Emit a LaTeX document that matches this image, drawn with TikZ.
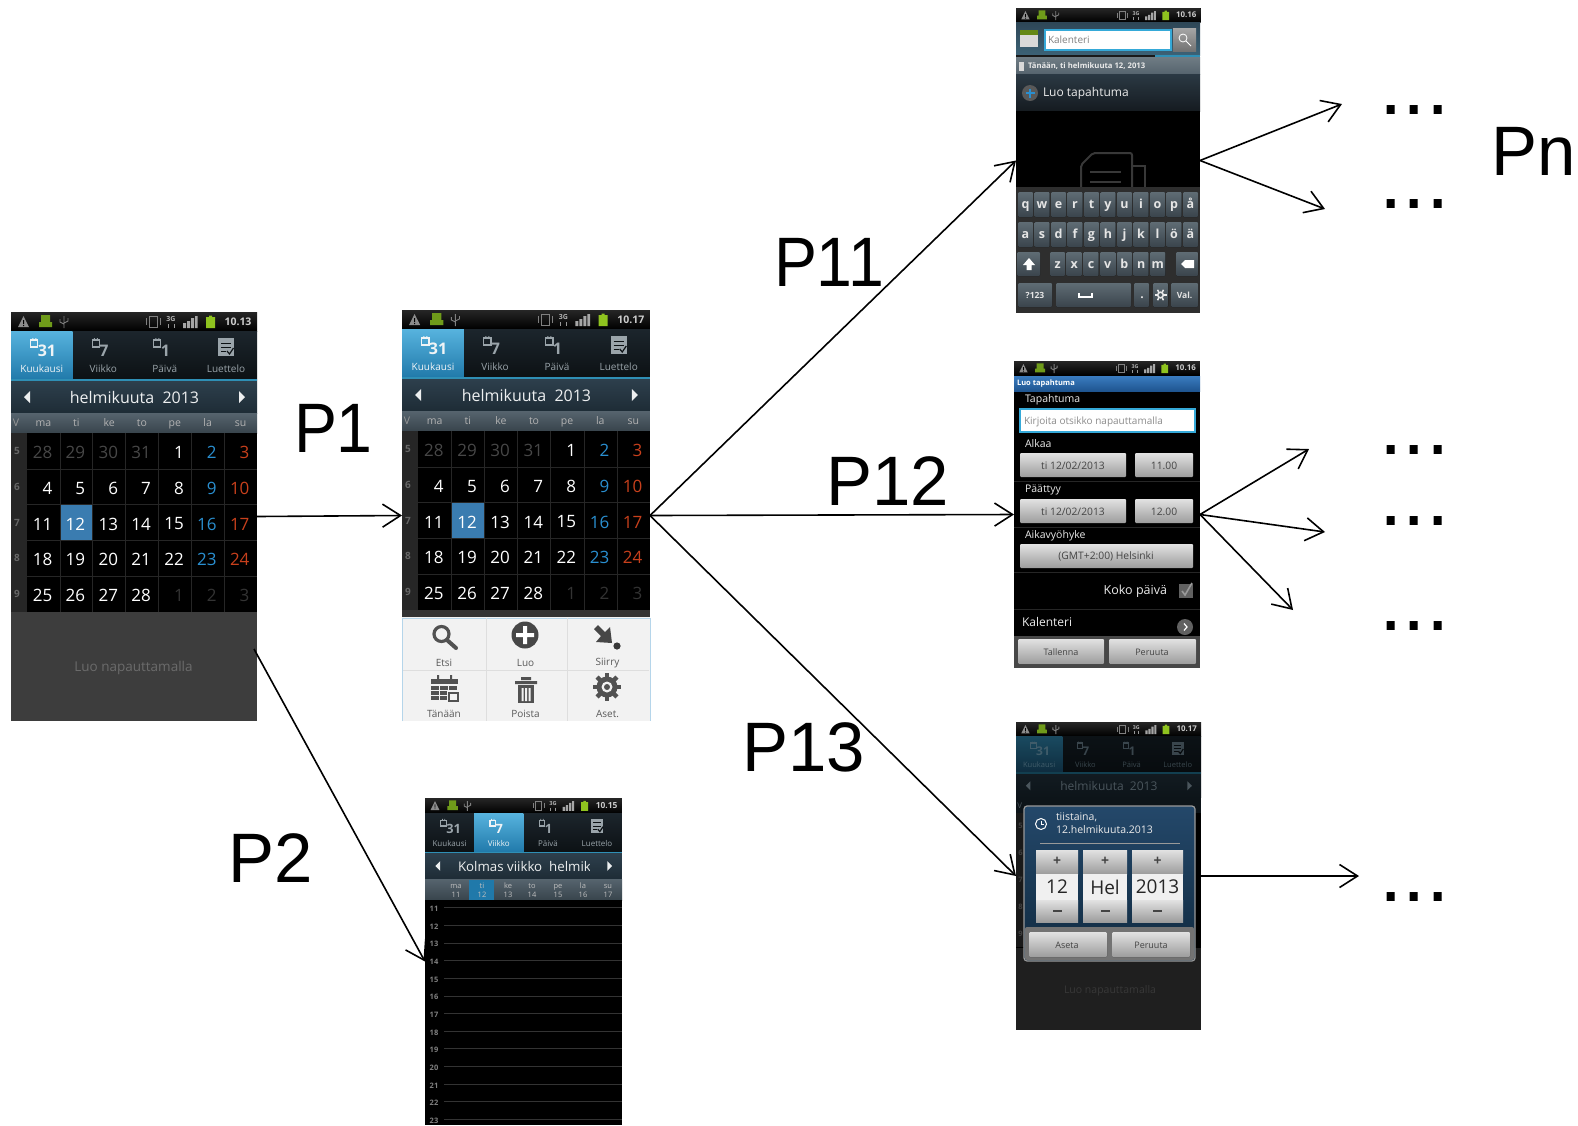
\documentclass[tikz,border=0pt]{standalone}
\usepackage{fontspec}
\setmainfont{Open Sans}
\newfontfamily\labfont{Liberation Sans}
\usetikzlibrary{arrows.meta}
\definecolor{cblue}{HTML}{2A8FD0}
\definecolor{cred}{HTML}{C8401C}
\definecolor{csel}{HTML}{3A7CB0}
\definecolor{ctab}{HTML}{1C252C}
\colorlet{tabtop}{ctab}
\definecolor{tabbot}{HTML}{0C1114}
\definecolor{hitop}{HTML}{57B3DE}
\definecolor{hibot}{HTML}{2079AA}
\definecolor{tabtxt}{HTML}{9AA4AA}
\definecolor{hitxt}{HTML}{F0F4F6}
\definecolor{tabline}{HTML}{2F8FB5}
\definecolor{mtop}{HTML}{2D3F4C}
\definecolor{mbot}{HTML}{1E2C36}
\definecolor{mtxt}{HTML}{EDEFF0}
\definecolor{wtop}{HTML}{56646E}
\definecolor{wbot}{HTML}{38444C}
\definecolor{btntop}{HTML}{E2E2E2}
\definecolor{btnbot}{HTML}{9C9C9C}
\definecolor{btntxt}{HTML}{444444}
\definecolor{keytop}{HTML}{5F6C74}
\definecolor{keybot}{HTML}{3A444C}
\definecolor{fieldb}{HTML}{35A9D8}
\definecolor{sbtop}{HTML}{2E4656}
\definecolor{sbbot}{HTML}{3C6276}
\definecolor{dgtop}{HTML}{24486A}
\definecolor{dgbot}{HTML}{102A40}
\definecolor{titop}{HTML}{3A7CC0}
\definecolor{tibot}{HTML}{1F5590}
\definecolor{datetop}{HTML}{6F7C84}
\definecolor{datebot}{HTML}{56646E}
\definecolor{luotop}{HTML}{2B3944}
\definecolor{luobot}{HTML}{151B20}
\definecolor{andr}{HTML}{6F9B1A}
\definecolor{batt}{HTML}{8FC31F}
\definecolor{menub}{HTML}{B5D5EA}
\newcounter{tc}
\tikzset{
  fs/.style={font=\fontsize{#1}{#1}\selectfont},
  txt/.style={inner sep=0pt,outer sep=0pt,text=white,fs=10},
  screen/.style={inner sep=0pt,outer sep=0pt,draw=none},
  flow/.style={line width=1.6pt,-{Straight Barb[length=18pt,width=23pt,line width=1.6pt]}},
  biglabel/.style={inner sep=0pt,outer sep=0pt,anchor=base west,text=black,font=\labfont\fontsize{70}{70}\selectfont,transform shape,xscale=#1},
  dotsl/.style={inner sep=0pt,outer sep=0pt,anchor=base west,text=black,font=\labfont\fontsize{84}{84}\selectfont},
  btn/.style={top color=btntop,bottom color=btnbot,rounded corners=1pt},
  keyb/.style={top color=keytop,bottom color=keybot,rounded corners=1pt},
  keyt/.style={font=\bfseries\fontsize{12.5}{12.5}\selectfont,text=black!10!white,text height=9pt,text depth=2.3pt},
  wkt/.style={fs=10.5,text height=7.5pt,text depth=2pt},
  wks/.style={fs=7.5,text=black!25!white,text height=5.5pt,text depth=1.5pt},
}
\newcommand\tx[4][]{\stepcounter{tc}\node[txt,#1] (t\arabic{tc}) at ({#2},{#3}) {#4};}
% status bar, local width 246, height 19
\newcommand\statusbar[1]{%
  \fill[top color=black!85!white,bottom color=black] (0,0) rectangle (246,19);
  \fill[black!45!white] (7,15)--(12.5,4)--(18,15)--cycle;
  \fill[black] (12,8) rectangle (13,12) (12,13) rectangle (13,14);
  \fill[andr] (28,15) rectangle (41,10) (30,10) rectangle (39,3);
  \draw[black!50!white,line width=.9pt] (53,16)--(53,4) (49,7)--(49,10)--(53,12) (57,6)--(57,9)--(53,11);
  \draw[black!50!white,line width=1pt] (138,4) rectangle (146,15);
  \draw[black!50!white,line width=.8pt] (135,6)--(135,13) (149,6)--(149,13);
  \tx[font=\bfseries\fontsize{7}{7}\selectfont,text=black!30!white]{160}{7}{3G}
  \draw[black!40!white,line width=.9pt] (157,12)--(157,16) (163,12)--(163,16);
  \fill[black!35!white] (172,11) rectangle (175,16) (176,9) rectangle (179,16) (180,6) rectangle (183,16) (184,4) rectangle (186.5,16);
  \fill[batt] (195,5) rectangle (204,16) (198,3.5) rectangle (201,5);
  \tx[font=\bfseries\fontsize{10.5}{10.5}\selectfont,text=black!20!white]{227}{9.5}{#1}
}
% single tab item: index, digit, label, active index
\newcommand\tabitem[4]{%
  \pgfmathsetmacro\cx{(#1+.5)*61.5}
  \ifnum#1=#4\relax\colorlet{cc}{hitxt}\else\colorlet{cc}{tabtxt}\fi
  \draw[cc,line width=1.1pt] (\cx-11,28) rectangle (\cx-4,35);
  \fill[cc] (\cx-9.5,26) rectangle (\cx-8.5,28) (\cx-6.5,26) rectangle (\cx-5.5,28);
  \tx[font=\bfseries\fontsize{16}{16}\selectfont,text=cc,anchor=west]{\cx-4}{39}{#2}
  \tx[fs=10,text=cc]{\cx}{57}{#3}
}
\newcommand\tabbar[1]{%
  \fill[top color=tabtop,bottom color=tabbot] (0,19) rectangle (246,68);
  \fill[top color=hitop,bottom color=hibot] ({#1*61.5},19) rectangle ++(61.5,49);
  \fill[tabline] (0,67) rectangle (246,69.5);
  \tabitem{0}{31}{Kuukausi}{#1}
  \tabitem{1}{7}{Viikko}{#1}
  \tabitem{2}{1}{Päivä}{#1}
  \tx[fs=10,text=tabtxt]{215}{57}{Luettelo}
  \fill[tabtxt] (207,26) rectangle (223,44);
  \draw[tabbot,line width=1pt] (210,31)--(220,31) (210,35)--(220,35) (210,39)--(215,39);
  \draw[tabbot,line width=1.2pt] (216,39)--(218.5,42)--(222.5,36);
}
\newcommand\monthbar[1]{%
  \fill[top color=mtop,bottom color=mbot] (0,69.5) rectangle (246,101);
  \fill[mtxt] (13,85)--(19,79)--(19,91)--cycle (234,85)--(228,79)--(228,91)--cycle;
  #1
}
\newcommand\calrow[2]{%
  \foreach \n [count=\c from 0] in {#2} {
    \colorlet{nc}{white}
    \ifnum\c=5 \colorlet{nc}{cblue}\fi
    \ifnum\c=6 \colorlet{nc}{cred}\fi
    \ifnum#1=0 \ifnum\c<4 \colorlet{nc}{black!72!white}\fi\fi
    \ifnum#1=4 \ifnum\c>3 \colorlet{nc}{black!80!white}\fi\fi
    \tx[fs=17,text=nc,anchor=east]{16+32.86*\c+25.3}{122.5+35.8*(#1+.5)}{\n}
  }
}
\newcommand\calgrid{%
  \fill[top color=wtop,bottom color=wbot] (0,101) rectangle (246,121);
  \foreach \d [count=\c from 0] in {ma,ti,ke,to,pe,la,su} {
    \tx[wkt,text=black!30!white]{16+32.86*\c+16.4}{112}{\d}
  }
  \tx[wkt,text=black!40!white]{5}{112}{V}
  \fill[black] (0,121) rectangle (246,300);
  \fill[black!85!white] (0,121) rectangle (16,300);
  \fill[csel] (48.9,192.6) rectangle (81.7,228.4);
  \foreach \c in {1,...,6} \draw[black!85!white,line width=.5pt] ({16+32.86*\c},121)--({16+32.86*\c},300);
  \foreach \r in {1,...,4} \draw[black!85!white,line width=.5pt] (0,{121+35.8*\r})--(246,{121+35.8*\r});
  \foreach \n [count=\r from 0] in {5,6,7,8,9} {
    \tx[font=\bfseries\fontsize{10}{10}\selectfont,text=black!60!white]{6}{121+35.8*\r+17.9}{\n}
  }
  \calrow{0}{28,29,30,31,1,2,3}
  \calrow{1}{4,5,6,7,8,9,10}
  \calrow{2}{11,12,13,14,15,16,17}
  \calrow{3}{18,19,20,21,22,23,24}
  \calrow{4}{25,26,27,28,1,2,3}
}
\begin{document}
\begin{tikzpicture}[x=1pt,y=-1pt]
\useasboundingbox (0,0) rectangle (1578,1125);
\fill[white] (0,0) rectangle (1578,1125);
% screen frames
\node[screen,minimum width=246pt,minimum height=409pt] (A) at (134,516.5) {};
\node[screen,minimum width=248pt,minimum height=411pt] (B) at (526,515.5) {};
\node[screen,minimum width=184pt,minimum height=305pt] (C) at (1108,160.5) {};
\node[screen,minimum width=186pt,minimum height=307pt] (D) at (1107,514.5) {};
\node[screen,minimum width=185pt,minimum height=308pt] (E) at (1108.5,876) {};
\node[screen,minimum width=197pt,minimum height=327pt] (F) at (523.5,961.5) {};

% ---- screen A
\begin{scope}[shift={(11,312)}]
  \statusbar{10.13}
  \tabbar{0}
  \monthbar{\tx[fs=16,text=mtxt]{123.5}{85}{helmikuuta\ \ 2013}}
  \calgrid
  \fill[black!76!white] (0,300) rectangle (246,409);
  \tx[fs=13.5,text=black!58!white]{122.5}{356}{Luo napauttamalla}
\end{scope}

% ---- screen B
\begin{scope}[shift={(402,310)},xscale=1.008]
  \statusbar{10.17}
  \tabbar{0}
  \monthbar{\tx[fs=16,text=mtxt]{123.5}{85}{helmikuuta\ \ 2013}}
  \calgrid
  \fill[black!80!white] (0,300) rectangle (246,307);
\end{scope}
\fill[black!5!white] (402,617) rectangle (650,721);
\draw[menub,line width=1pt] (402,721)--(402,618)--(650,618)--(650,721);
\draw[black!13!white,line width=.7pt] (486,618)--(486,721) (567,618)--(567,721) (403,670)--(649,670);
\draw[black!68!white,line width=3.2pt] (441.5,634) circle (7.5);
\draw[black!68!white,line width=4pt,line cap=round] (447,640)--(456,648);
\fill[black!72!white] (525,635) circle (13.5);
\fill[white] (523,626) rectangle (527,644) (516,633) rectangle (534,637);
\fill[black!72!white] (594,629)--(598,625)--(605,632)--(610,627)--(612,643)--(596,642)--(601,636)--cycle;
\fill[black!78!white] (617,646) circle (3.6);
\fill[black!68!white] (431,679) rectangle (458,684);
\fill[black!68!white] (437,675) rectangle (439,679) (450,675) rectangle (452,679);
\foreach \i in {0,1,2} \foreach \j in {0,1,2} \fill[black!68!white] ({431+9.2*\i},{685.5+5.2*\j}) rectangle ++(7.8,4);
\fill[black!5!white] (447,691) rectangle (460,702);
\draw[black!68!white,line width=1.2pt] (449,693) rectangle (458,701);
\fill[black!68!white] (515,681) rectangle (537,684) (521,677) rectangle (531,680);
\fill[black!68!white] (518,685) rectangle (534,703);
\fill[black!5!white] (521.5,688) rectangle (523.5,701) (525,688) rectangle (527,701) (528.5,688) rectangle (530.5,701);
\foreach \a in {0,45,...,315} \draw[black!68!white,line width=4.5pt] (607,687) ++(\a:8) -- ++(\a:6);
\fill[black!68!white] (607,687) circle (10.5);
\fill[black!5!white] (607,687) circle (5.5);
\fill[black!68!white] (607,687) circle (3);
\foreach \l/\x/\y in {Etsi/444/663,Luo/525.5/663,Siirry/607.5/663,Tänään/444/714,Poista/525.5/714,Aset./607.5/714} {
  \tx[fs=10,text=black!65!white]{\x}{\y}{\l}
}

% ---- screen F
\begin{scope}[shift={(425,798)},scale=.8,transform shape]
  \statusbar{10.15}
  \tabbar{1}
  \monthbar{}
\end{scope}
\begin{scope}
  \clip (425,853) rectangle (589,880);
  \tx[fs=13.3,text=mtxt,anchor=west]{458}{866.5}{Kolmas viikko\ \ helmikuuta}
\end{scope}
\fill[top color=wtop,bottom color=wbot] (425,879) rectangle (622,900);
\fill[hibot] (469,880) rectangle (494,900);
\foreach \d/\n/\x in {ma/11/456,ti/12/482,ke/13/508,to/14/532,pe/15/558,la/16/583,su/17/608} {
  \tx[wks]{\x}{886.5}{\d}
  \tx[wks]{\x}{895.5}{\n}
}
\fill[black] (425,900) rectangle (622,1125);
\foreach \h [count=\i from 0] in {11,...,23} {
  \tx[font=\bfseries\fontsize{7.5}{7.5}\selectfont,text=black!50!white]{434}{909+17.65*\i}{\h}
  \draw[black!80!white,line width=.5pt] (444,{907.5+17.65*\i})--(622,{907.5+17.65*\i});
}

% ---- screen C
\begin{scope}[shift={(1016,8)},scale=.75,transform shape]
  \statusbar{10.16}
\end{scope}
\fill[top color=sbtop,bottom color=sbbot] (1016,22) rectangle (1200,55);
\fill[black!15!white] (1020,30) rectangle (1038,47);
\fill[batt!70!black] (1020,30) rectangle (1038,35);
\draw[fieldb,line width=1.2pt,fill=white] (1045,30) rectangle (1171,50);
\tx[fs=10,text=black!50!white,anchor=west]{1048}{40}{Kalenteri}
\fill[top color=black!35!white,bottom color=black!55!white] (1173,28) rectangle (1196,51);
\draw[white,line width=.8pt] (1183,38) circle (4);
\draw[white,line width=.8pt] (1186,41)--(1191,46);
\fill[black!90!white] (1016,55) rectangle (1155,57);
\fill[tabline] (1155,55) rectangle (1200,57);
\fill[top color=datetop,bottom color=datebot] (1016,57) rectangle (1200,74);
\fill[black!15!white] (1019,62) rectangle (1024,71);
\tx[font=\bfseries\fontsize{7.7}{7.7}\selectfont,text=black!8!white,anchor=west]{1028}{66.5}{Tänään, ti helmikuuta 12, 2013}
\fill[top color=luotop,bottom color=luobot] (1016,74) rectangle (1200,111);
\fill[black!65!white] (1030,93) circle (8);
\draw[cblue,line width=1.6pt] (1025.5,93)--(1034.5,93) (1030,88.5)--(1030,97.5);
\tx[fs=12,text=black!8!white,anchor=west]{1043}{93.5}{Luo tapahtuma}
\fill[black] (1016,111) rectangle (1200,187);
\draw[black!78!white,line width=2pt,rounded corners=2pt] (1081,187)--(1081,165)--(1093,153)--(1132,153)--(1132,187);
\draw[black!78!white,line width=2pt] (1132,166)--(1145,166)--(1145,187) (1090,172)--(1121,172) (1090,182)--(1121,182);
\fill[black!82!white] (1016,187) rectangle (1200,313);
\foreach \l [count=\i from 0] in {q,w,e,r,t,y,u,i,o,p,å} {
  \fill[keyb] ({1018+16.5*\i},192) rectangle ++(15,25);
  \tx[keyt]{1025.5+16.5*\i}{205}{\l}
}
\foreach \l [count=\i from 0] in {a,s,d,f,g,h,j,k,l,ö,ä} {
  \fill[keyb] ({1018+16.5*\i},222) rectangle ++(15,25);
  \tx[keyt]{1025.5+16.5*\i}{235}{\l}
}
\fill[keyb] (1017,252) rectangle (1040,276);
\fill[white] (1029,258)--(1035,265)--(1031.5,265)--(1031.5,270)--(1026.5,270)--(1026.5,265)--(1023,265)--cycle;
\foreach \l [count=\i from 0] in {z,x,c,v,b,n,m} {
  \fill[keyb] ({1050+16.7*\i},252) rectangle ++(15.2,24);
  \tx[keyt]{1057.6+16.7*\i}{265}{\l}
}
\fill[keyb] (1176,252) rectangle (1198,276);
\fill[white] (1181,264)--(1185,260)--(1194,260)--(1194,268)--(1185,268)--cycle;
\fill[keyb] (1018,283) rectangle (1052,307);
\tx[font=\bfseries\fontsize{8.5}{8.5}\selectfont,text=black!10!white]{1035}{295}{?123}
\fill[keyb] (1056,283) rectangle (1131,307);
\draw[white,line width=1.2pt] (1079,293)--(1079,297)--(1092,297)--(1092,293);
\fill[keyb] (1134,283) rectangle (1149,307);
\tx[font=\bfseries\fontsize{12}{12}\selectfont,text=black!10!white]{1142}{298}{.}
\fill[keyb] (1153,283) rectangle (1168,307);
\foreach \a in {0,60,...,300} \draw[black!8!white,line width=1.5pt] (1160.5,295) ++(\a:3.5) -- ++(\a:2.5);
\draw[black!8!white,line width=1.5pt] (1160.5,295) circle (2.8);
\fill[keyb] (1171,283) rectangle (1198,307);
\tx[font=\bfseries\fontsize{8.5}{8.5}\selectfont,text=black!10!white]{1184.5}{295}{Val.}

% ---- screen D
\begin{scope}[shift={(1014,361)},xscale=.756,yscale=.75,transform shape]
  \statusbar{10.16}
\end{scope}
\fill[black] (1014,375) rectangle (1200,668);
\fill[top color=titop,bottom color=tibot] (1014,376) rectangle (1200,391);
\tx[font=\bfseries\fontsize{7.5}{7.5}\selectfont,text=white,anchor=west]{1017}{383.5}{Luo tapahtuma}
\tx[fs=10.5,text=black!8!white,anchor=west]{1025}{400}{Tapahtuma}
\draw[fieldb,line width=1.3pt,fill=white] (1020,409) rectangle (1195,432);
\tx[fs=10,text=black!45!white,anchor=west]{1024}{421.5}{Kirjoita otsikko napauttamalla}
\tx[fs=10.5,text=black!8!white,anchor=west]{1025}{444}{Alkaa}
\fill[btn] (1020,453) rectangle (1126,477);
\fill[btn] (1135,453) rectangle (1193,477);
\tx[fs=10.3,text=btntxt]{1073}{466}{ti 12/02/2013}
\tx[fs=10.3,text=btntxt]{1164}{466}{11.00}
\draw[black!85!white,line width=.5pt] (1014,481)--(1200,481);
\tx[fs=10.5,text=black!8!white,anchor=west]{1025}{490}{Päättyy}
\fill[btn] (1020,499) rectangle (1126,523);
\fill[btn] (1135,499) rectangle (1193,523);
\tx[fs=10.3,text=btntxt]{1073}{511.5}{ti 12/02/2013}
\tx[fs=10.3,text=btntxt]{1164}{511.5}{12.00}
\draw[black!85!white,line width=.5pt] (1014,527)--(1200,527);
\tx[fs=10.5,text=black!8!white,anchor=west]{1025}{536}{Aikavyöhyke}
\fill[btn] (1020,544) rectangle (1193,568);
\tx[fs=10.3,text=btntxt]{1106}{556.5}{(GMT+2:00) Helsinki}
\draw[black!85!white,line width=.5pt] (1014,572)--(1200,572) (1014,609)--(1200,609);
\tx[fs=12.5,text=black!8!white,anchor=east]{1167}{591}{Koko päivä}
\fill[black!62!white] (1179,584) rectangle (1193,598);
\draw[black!40!white,line width=1.6pt] (1182,591)--(1185,595)--(1192,583);
\tx[fs=12,text=black!8!white,anchor=west]{1022}{622}{Kalenteri}
\fill[black!62!white] (1185,627) circle (8);
\draw[white,line width=1.2pt] (1184,623.5)--(1187,627)--(1184,630.5);
\fill[black!72!white] (1014,636) rectangle (1200,668);
\fill[btn] (1018,639) rectangle (1104,664);
\fill[btn] (1109,639) rectangle (1196,664);
\tx[fs=9,text=btntxt]{1061}{652}{Tallenna}
\tx[fs=9,text=btntxt]{1152}{652}{Peruuta}

% ---- screen E
\fill[black!88!white] (1016,722) rectangle (1201,1030);
\fill[black] (1016,800) rectangle (1201,948);
\begin{scope}[shift={(1016,722)},xscale=.752,yscale=.75,transform shape]
  \statusbar{10.17}
  \definecolor{tabtop}{HTML}{0C1216}
  \definecolor{tabbot}{HTML}{070B0E}
  \definecolor{hitop}{HTML}{1A4A60}
  \definecolor{hibot}{HTML}{0E2C3E}
  \definecolor{tabtxt}{HTML}{39454C}
  \definecolor{hitxt}{HTML}{405C6A}
  \definecolor{tabline}{HTML}{123F50}
  \definecolor{mtop}{HTML}{121B21}
  \definecolor{mbot}{HTML}{0D1419}
  \definecolor{mtxt}{HTML}{4A555C}
  \tabbar{0}
  \monthbar{\tx[fs=16,text=mtxt]{123.5}{85}{helmikuuta\ \ 2013}}
  \fill[mbot] (0,101) rectangle (246,121);
  \tx[wkt,text=mtxt]{5}{112}{V}
  \fill[black!90!white] (0,121) rectangle (16,300);
  \foreach \n [count=\r from 0] in {5,6,7,8,9} {
    \tx[font=\bfseries\fontsize{10}{10}\selectfont,text=black!75!white]{6}{121+35.8*\r+17.9}{\n}
  }
\end{scope}
\tx[fs=10.5,text=black!78!white]{1110}{991}{Luo napauttamalla}
\draw[black!40!white,line width=1.2pt,rounded corners=3pt,top color=dgtop,bottom color=dgbot] (1024,806) rectangle (1195,961);
\fill[black!55!white,rounded corners=2pt] (1025,927) rectangle (1194,960);
\draw[white,line width=1pt] (1041,824) circle (5.5);
\draw[white,line width=.8pt] (1041,821)--(1041,824)--(1044,824);
\tx[fs=10.5,text=black!8!white,anchor=west]{1056}{817.5}{tiistaina,}
\tx[fs=10.5,text=black!8!white,anchor=west]{1056}{830}{12.helmikuuta.2013}
\draw[black!40!white,line width=.5pt] (1040,843)--(1180,843);
\foreach \xa/\xb/\v in {1036/1078/12,1083/1127/Hel,1132/1183/2013} {
  \fill[top color=btntop,bottom color=btnbot] (\xa,850) rectangle (\xb,874);
  \fill[black!6!white] (\xa,874) rectangle (\xb,900);
  \fill[top color=btntop,bottom color=btnbot] (\xa,900) rectangle (\xb,922);
  \tx[fs=19,text=black!85!white]{(\xa+\xb)/2}{887}{\v}
  \tx[font=\bfseries\fontsize{14}{14}\selectfont,text=btntxt]{(\xa+\xb)/2}{861}{+}
  \fill[btntxt] ({(\xa+\xb)/2-4.5},910) rectangle ({(\xa+\xb)/2+4.5},912);
}
\fill[btn] (1029,932) rectangle (1107,957);
\fill[btn] (1112,932) rectangle (1190,957);
\tx[fs=9,text=btntxt]{1067}{945}{Aseta}
\tx[fs=9,text=btntxt]{1151}{945}{Peruuta}

% ---- free ends and texts
\coordinate (p2s) at (254,649);
\coordinate (c1) at (1342,104);
\coordinate (c2) at (1325,209);
\coordinate (d1) at (1309,449);
\coordinate (d2) at (1325,532);
\coordinate (d3) at (1293,610);
\coordinate (e1) at (1359,876);

\draw[flow] (A.east) -- (B.west);
\draw[flow] (p2s) -- (F.west);
\draw[flow] (B.east) -- (C.west);
\draw[flow] (B.east) -- (D.west);
\draw[flow] (B.east) -- (E.west);
\draw[flow] (C.east) -- (c1);
\draw[flow] (C.east) -- (c2);
\draw[flow] (D.east) -- (d1);
\draw[flow] (D.east) -- (d2);
\draw[flow] (D.east) -- (d3);
\draw[flow] (E.east) -- (e1);

\node[biglabel=.92] (lp1) at (294,452) {P1};
\node[biglabel=.985] (lp2) at (228.5,882) {P2};
\node[biglabel=.92] (lp11) at (774,286) {P11};
\node[biglabel=.985] (lp12) at (826,505) {P12};
\node[biglabel=.985] (lp13) at (742,771) {P13};
\node[biglabel=.985] (lpn) at (1491,175.5) {Pn};
\node[dotsl] (dc1) at (1379.5,114) {...};
\node[dotsl] (dc2) at (1379.5,208.5) {...};
\node[dotsl] (dd1) at (1379.5,454) {...};
\node[dotsl] (dd2) at (1379.5,525.5) {...};
\node[dotsl] (dd3) at (1379.5,630) {...};
\node[dotsl] (de1) at (1379.5,901) {...};
\end{tikzpicture}
\end{document}
